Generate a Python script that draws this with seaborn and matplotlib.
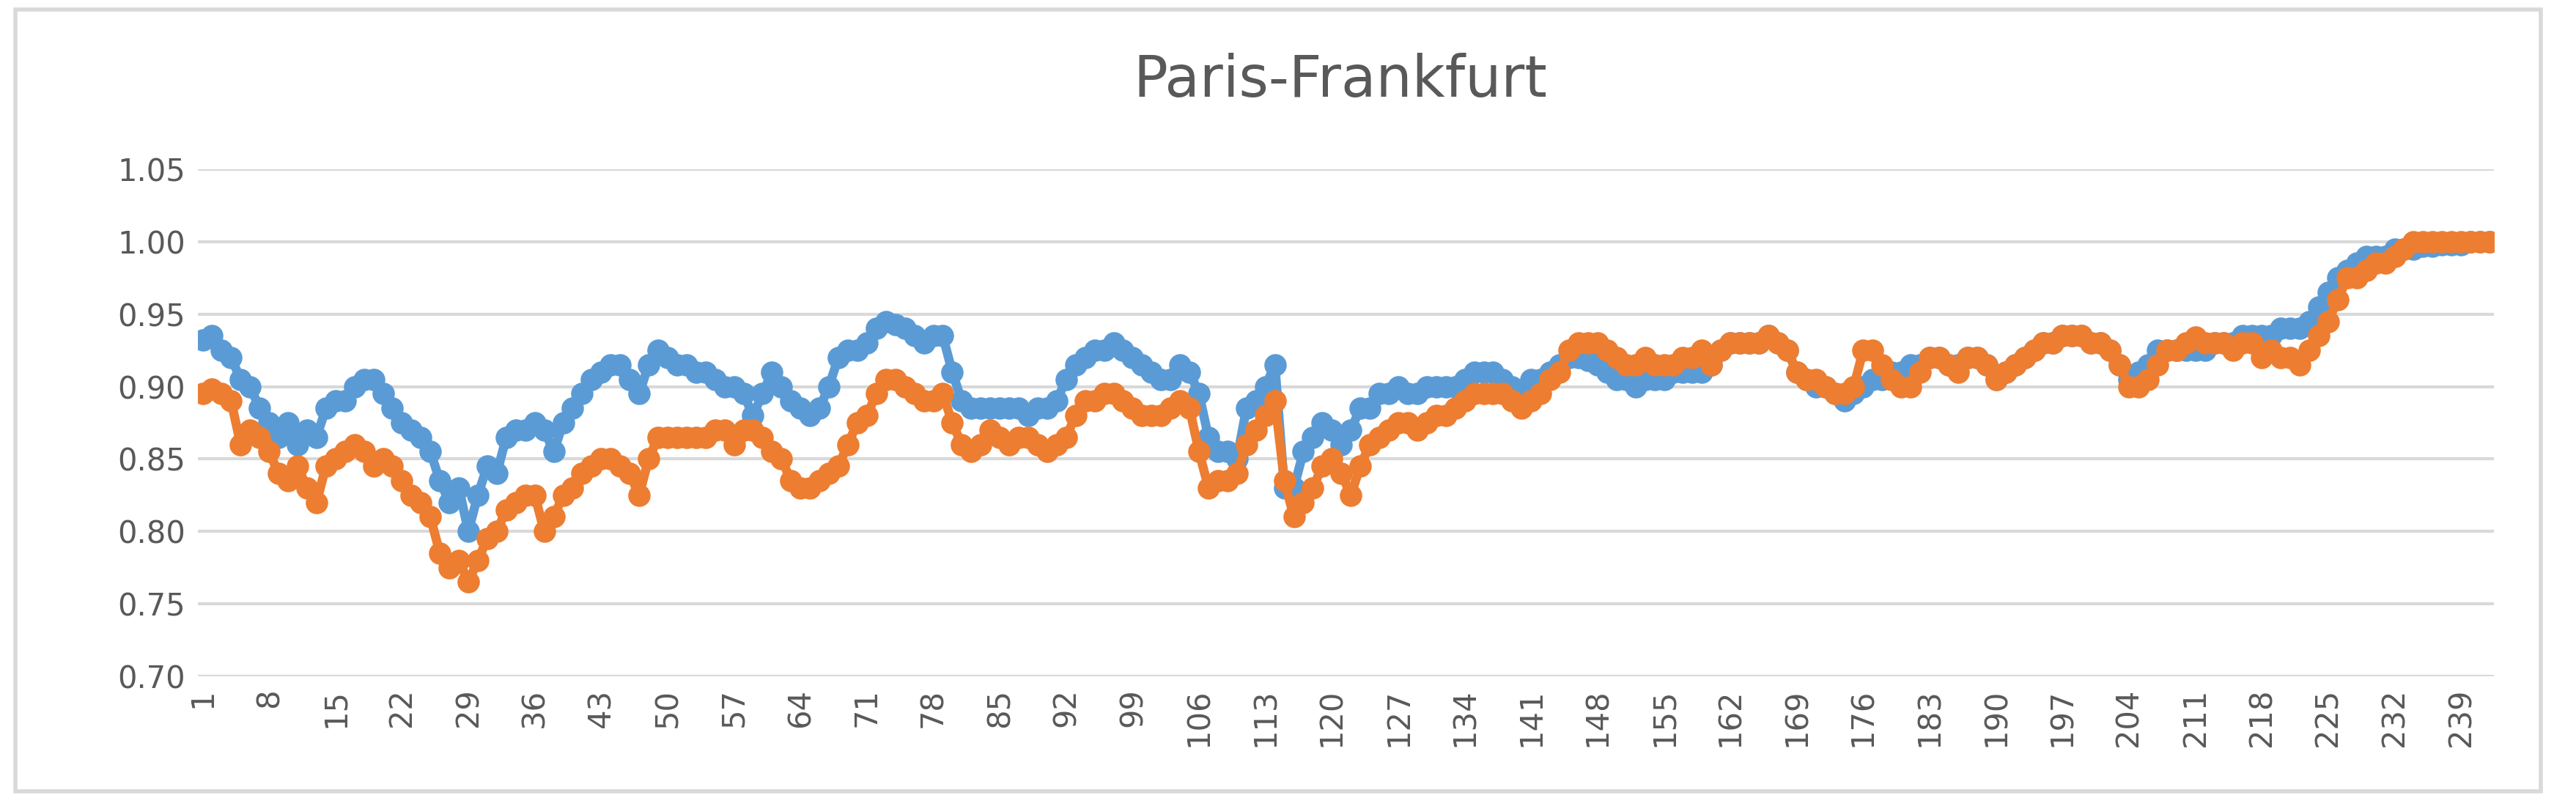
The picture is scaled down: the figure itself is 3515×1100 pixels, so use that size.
import matplotlib
matplotlib.use("Agg")
import matplotlib.pyplot as plt
import seaborn as sns
import pandas as pd
from matplotlib.patches import Rectangle

title = "Paris-Frankfurt"
blue = [
 .932,.935,.925,.92,.905,.90,.885,.875,.865,.875,
 .86,.87,.865,.885,.89,.89,.90,.905,.905,.895,
 .885,.875,.87,.865,.855,.835,.82,.83,.80,.825,
 .845,.84,.865,.87,.87,.875,.87,.855,.875,.885,
 .895,.905,.91,.915,.915,.905,.895,.915,.925,.92,
 .915,.915,.91,.91,.905,.90,.90,.895,.88,.895,
 .91,.90,.89,.885,.88,.885,.90,.92,.925,.925,
 .93,.94,.945,.943,.94,.935,.93,.935,.935,.91,
 .89,.885,.885,.885,.885,.885,.885,.88,.885,.885,
 .89,.905,.915,.92,.925,.925,.93,.925,.92,.915,
 .91,.905,.905,.915,.91,.895,.865,.855,.855,.85,
 .885,.89,.90,.915,.83,.83,.855,.865,.875,.87,
 .86,.87,.885,.885,.895,.895,.90,.895,.895,.90,
 .90,.90,.90,.905,.91,.91,.91,.905,.90,.895,
 .905,.905,.91,.915,.92,.92,.918,.915,.91,.905,
 .905,.90,.905,.905,.905,.91,.91,.91,.91,.915,
 .925,.93,.93,.93,.93,.935,.93,.925,.91,.905,
 .90,.90,.895,.89,.895,.90,.905,.905,.91,.91,
 .915,.915,.92,.92,.915,.915,.92,.92,.915,.905,
 .91,.915,.92,.925,.93,.93,.935,.935,.935,.93,
 .93,.925,.915,.905,.91,.915,.925,.925,.925,.925,
 .925,.925,.93,.93,.93,.935,.935,.935,.935,.94,
 .94,.94,.945,.955,.965,.975,.98,.985,.99,.99,
 .99,.995,.995,.995,.997,.997,.998,.998,.998,1.0,1.0,1.0]
orange = [
 .895,.898,.895,.89,.86,.87,.865,.855,.84,.835,
 .845,.83,.82,.845,.85,.855,.86,.855,.845,.85,
 .845,.835,.825,.82,.81,.785,.775,.78,.765,.78,
 .795,.80,.815,.82,.825,.825,.80,.81,.825,.83,
 .84,.845,.85,.85,.845,.84,.825,.85,.865,.865,
 .865,.865,.865,.865,.87,.87,.86,.87,.87,.865,
 .855,.85,.835,.83,.83,.835,.84,.845,.86,.875,
 .88,.895,.905,.905,.90,.895,.89,.89,.895,.875,
 .86,.855,.86,.87,.865,.86,.865,.865,.86,.855,
 .86,.865,.88,.89,.89,.895,.895,.89,.885,.88,
 .88,.88,.885,.89,.885,.855,.83,.835,.835,.84,
 .86,.87,.88,.89,.835,.81,.82,.83,.845,.85,
 .84,.825,.845,.86,.865,.87,.875,.875,.87,.875,
 .88,.88,.885,.89,.895,.895,.895,.895,.89,.885,
 .89,.895,.905,.91,.925,.93,.93,.93,.925,.92,
 .915,.915,.92,.915,.915,.915,.92,.92,.925,.915,
 .925,.93,.93,.93,.93,.935,.93,.925,.91,.905,
 .905,.90,.895,.895,.90,.925,.925,.915,.905,.90,
 .90,.91,.92,.92,.915,.91,.92,.92,.915,.905,
 .91,.915,.92,.925,.93,.93,.935,.935,.935,.93,
 .93,.925,.915,.90,.90,.905,.915,.925,.925,.93,
 .934,.93,.93,.93,.925,.93,.93,.92,.925,.92,
 .92,.915,.925,.935,.945,.96,.975,.975,.98,.985,
 .985,.99,.995,1.0,1.0,1.0,1.0,1.0,1.0,1.0,1.0,1.0]
n = min(len(blue), len(orange))
blue, orange = blue[:n], orange[:n]
x = list(range(1, n + 1))
tick_labels = list(range(1, n + 1, 7))
yticks = [0.70, 0.75, 0.80, 0.85, 0.90, 0.95, 1.00, 1.05]

df = pd.DataFrame({"x": x + x, "y": blue + orange,
                   "s": ["Series1"] * n + ["Series2"] * n})

sns.set_theme(style="white")
plt.rcParams['font.family'] = ['DejaVu Sans']
fig = plt.figure(figsize=(35.16, 11), dpi=100)
ax = fig.add_axes([0.0768, 0.161, 0.8912, 0.629])
sns.lineplot(data=df, x="x", y="y", hue="s", palette=["#5B9BD5", "#ED7D31"],
             marker="o", markersize=22, markeredgewidth=0, linewidth=9,
             legend=False, ax=ax, zorder=3)
ax.set_xlim(0.5, n + 0.5)
ax.set_ylim(0.70, 1.05)
ax.set_yticks(yticks)
ax.set_yticklabels([f"{v:.2f}" for v in yticks])
ax.set_xticks(tick_labels)
ax.set_xticklabels([str(t) for t in tick_labels], rotation=90)
ax.tick_params(axis="both", labelsize=30, colors="#595959", length=0, pad=12)
ax.grid(axis="y", color="#D9D9D9", linewidth=3)
ax.set_axisbelow(True)
for s in ax.spines.values():
    s.set_visible(False)
ax.set_xlabel("")
ax.set_ylabel("")
fig.text(0.52, 0.90, title, ha="center", va="center", fontsize=56, color="#595959")
fig.patches.append(Rectangle((0.006, 0.018), 0.98, 0.97, transform=fig.transFigure,
                             fill=False, edgecolor="#D9D9D9", linewidth=4))
fig.savefig("out.png", dpi=100, facecolor="white")
